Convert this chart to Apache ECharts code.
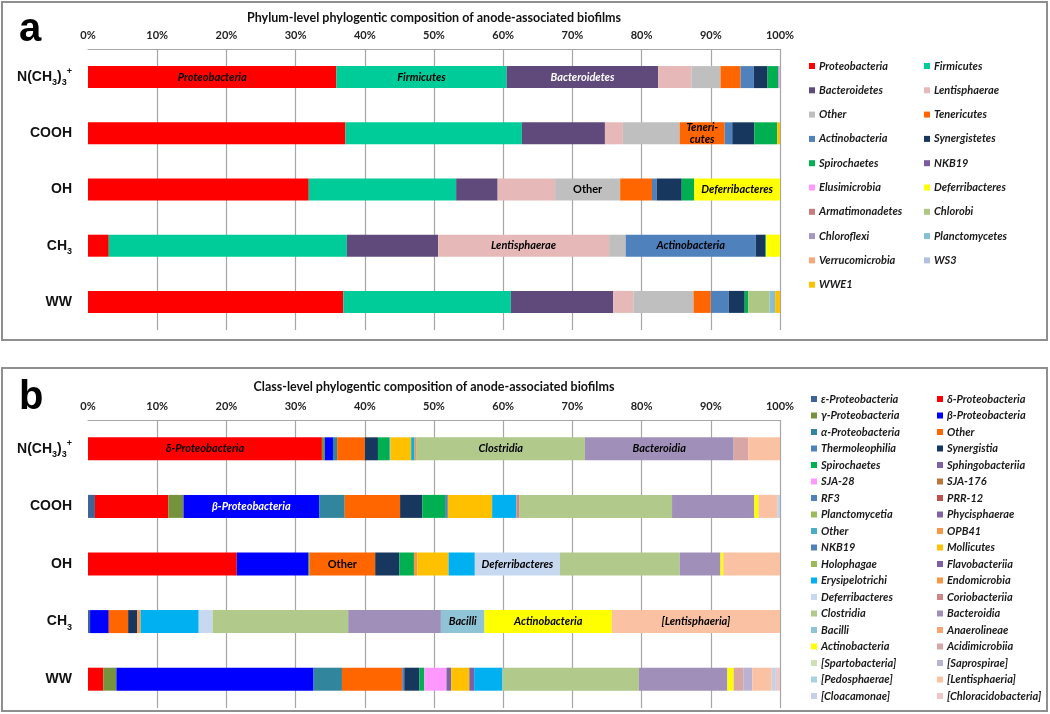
<!DOCTYPE html>
<html>
<head>
<meta charset="utf-8">
<script src="https://cdn.jsdelivr.net/npm/echarts@6/dist/echarts.min.js"></script>
<style>
html,body{margin:0;padding:0;background:#fff;}
#chart{width:1050px;height:714px;}
</style>
</head>
<body>
<div id="chart"></div>
<script>
// ---------- DATA ----------
const categories = ['N(CH3)3+', 'COOH', 'OH', 'CH3', 'WW'];
const pctTicks = [0, 10, 20, 30, 40, 50, 60, 70, 80, 90, 100];

const titleA = 'Phylum-level phylogentic composition of anode-associated biofilms';
const titleB = 'Class-level phylogentic composition of anode-associated biofilms';

const phylumNames = ['Proteobacteria', 'Firmicutes', 'Bacteroidetes', 'Lentisphaerae', 'Other', 'Tenericutes',
  'Actinobacteria', 'Synergistetes', 'Spirochaetes', 'NKB19', 'Elusimicrobia', 'Deferribacteres',
  'Armatimonadetes', 'Chlorobi', 'Chloroflexi', 'Planctomycetes', 'Verrucomicrobia', 'WS3', 'WWE1'];
const phylumColors = ['#FF0000', '#00CC99', '#604A7B', '#E6B9B8', '#BFBFBF', '#FF6600',
  '#4F81BD', '#17375E', '#00B050', '#7B5AA0', '#FF99FF', '#FFFF00',
  '#CB7B7B', '#AEC785', '#A697C6', '#86BFD5', '#F7A77A', '#B4C0E0', '#FFC000'];
//                 Prot  Firm  Bact  Lent  Oth  Tene Acti Syne Spir NKB Elus Defe Arma Chlb Chlf Plan Verr WS3 WWE1
const phylumN    = [35.9, 24.6, 21.9, 4.8, 4.2, 2.9, 1.9, 2.0, 1.6, 0, 0.2, 0, 0, 0, 0, 0, 0, 0, 0];
const phylumCOOH = [37.2, 25.5, 12.0, 2.6, 8.2, 6.5, 1.1, 3.2, 3.3, 0, 0, 0, 0, 0, 0, 0, 0, 0, 0.4];
const phylumOH   = [31.9, 21.3, 6.0, 8.3, 9.4, 4.6, 0.7, 3.6, 1.8, 0, 0, 12.4, 0, 0, 0, 0, 0, 0, 0];
const phylumCH3  = [3.0, 34.4, 13.2, 24.7, 2.4, 0, 18.8, 1.4, 0.1, 0, 0, 2.0, 0, 0, 0, 0, 0, 0, 0];
const phylumWW   = [36.9, 24.2, 14.8, 2.9, 8.7, 2.5, 2.6, 2.3, 0.5, 0, 0, 0, 0, 3.1, 0, 0.8, 0, 0, 0.7];

const classNames = ['ε-Proteobacteria', 'δ-Proteobacteria', 'γ-Proteobacteria', 'β-Proteobacteria',
  'α-Proteobacteria', 'Other', 'Thermoleophilia', 'Synergistia', 'Spirochaetes', 'Sphingobacteriia',
  'SJA-28', 'SJA-176', 'RF3', 'PRR-12', 'Planctomycetia', 'Phycisphaerae', 'Other', 'OPB41',
  'NKB19', 'Mollicutes', 'Holophagae', 'Flavobacteriia', 'Erysipelotrichi', 'Endomicrobia',
  'Deferribacteres', 'Coriobacteriia', 'Clostridia', 'Bacteroidia', 'Bacilli', 'Anaerolineae',
  'Actinobacteria', 'Acidimicrobiia', '[Spartobacteria]', '[Saprospirae]', '[Pedosphaerae]',
  '[Lentisphaeria]', '[Cloacamonae]', '[Chloracidobacteria]'];
const classColors = ['#3F6597', '#FF0000', '#76923C', '#0000FF',
  '#31859C', '#FF6600', '#4F81BD', '#17375E', '#00B050', '#7F62A3',
  '#FF99FF', '#B9773A', '#4F81BD', '#C0504D', '#9BBB59', '#8064A2', '#4BACC6', '#F79646',
  '#4F81BD', '#FFC000', '#9BBB59', '#7F5FA3', '#00B0F0', '#F79646',
  '#C6D9F1', '#D08686', '#B1C98B', '#A090B9', '#8EC4D6', '#F9A56F',
  '#FFFF00', '#D9A6A6', '#D0E0B6', '#B9B2D3', '#A8D2DF',
  '#FAC1A2', '#C7D1E5', '#EDC8C8'];
//               ε    δ     γ    β     α    Oth  Ther Syn  Spi  Sph SJ28 SJ176 RF3 PRR Plm Phy Oth2 OPB NKB Moll Hol Fla Ery Endo Def Cor Clos Bact Bac Ana Act Acid Spa Sap Ped Lent Cloa Chl
const classN    = [0, 33.8, 0.4, 1.2, 0.6, 4.0, 0, 1.9, 1.6, 0, 0, 0, 0, 0, 0, 0, 0.2, 0, 0, 3.0, 0, 0, 0.5, 0.3, 0, 0, 24.3, 21.5, 0, 0, 0, 2.1, 0, 0, 0, 4.6, 0, 0];
const classCOOH = [1.0, 10.6, 2.2, 19.6, 3.7, 8.0, 0, 3.2, 3.3, 0, 0, 0, 0, 0, 0, 0, 0, 0, 0.4, 6.4, 0, 0, 3.5, 0, 0, 0.4, 22.1, 11.9, 0, 0, 0.6, 0, 0, 0, 0, 2.7, 0.4, 0];
const classOH   = [0, 21.5, 0, 10.3, 0.2, 9.5, 0, 3.5, 2.1, 0, 0, 0, 0, 0, 0, 0, 0, 0.5, 0, 4.5, 0, 0, 3.8, 0, 12.3, 0, 17.3, 5.9, 0, 0, 0.4, 0, 0, 0, 0, 8.2, 0, 0];
const classCH3  = [0.3, 0, 0, 2.7, 0, 2.8, 0, 1.3, 0, 0, 0, 0, 0, 0, 0, 0, 0, 0.5, 0, 0, 0, 0, 8.4, 0, 2.0, 0, 19.6, 13.4, 6.3, 0, 18.4, 0, 0, 0, 0, 24.3, 0, 0];
const classWW   = [0, 2.2, 1.9, 28.5, 4.1, 8.7, 0.3, 2.2, 0.7, 0, 3.2, 0, 0, 0, 0, 0.7, 0, 0, 0, 2.6, 0, 0.7, 4.1, 0, 0, 0, 19.7, 12.8, 0, 0, 0.9, 1.4, 0, 1.3, 0, 2.8, 0.6, 0.6];

// Text written on bar segments: [category index, taxon index, text]
const segLabelsA = [[0, 0, 'Proteobacteria'], [0, 1, 'Firmicutes'], [0, 2, 'Bacteroidetes'],
  [1, 5, 'Teneri-\ncutes'], [2, 4, 'Other'], [2, 11, 'Deferribacteres'],
  [3, 3, 'Lentisphaerae'], [3, 6, 'Actinobacteria']];
const segLabelsB = [[0, 1, 'δ-Proteobacteria'], [0, 26, 'Clostridia'], [0, 27, 'Bacteroidia'],
  [1, 3, 'β-Proteobacteria'], [2, 5, 'Other'], [2, 24, 'Deferribacteres'],
  [3, 28, 'Bacilli'], [3, 30, 'Actinobacteria'], [3, 35, '[Lentisphaeria]']];

// ---------- BUILD ----------
const phylumRows = [phylumN, phylumCOOH, phylumOH, phylumCH3, phylumWW];
const classRows = [classN, classCOOH, classOH, classCH3, classWW];

const LFONT = 'Lato, "Open Sans", sans-serif';
const AFONT = '"Liberation Sans", Arial, sans-serif';

function uniqueNames(prefix, names) {
  const seen = {};
  return names.map(n => {
    let s = prefix + n;
    while (seen[s]) s += ' ';
    seen[s] = true;
    return s;
  });
}
const seriesNamesA = uniqueNames('a:', phylumNames);
const seriesNamesB = uniqueNames('b:', classNames);

function segLabel(list, cat, k) {
  const hit = list.find(l => l[0] === cat && l[1] === k);
  if (!hit) return null;
  const txt = hit[2];
  const white = (txt === 'Bacteroidetes' || txt === 'β-Proteobacteria');
  const plain = (txt === 'Other');
  return {
    show: true, position: 'inside', formatter: txt,
    color: white ? '#ffffff' : '#000000',
    fontFamily: LFONT, fontWeight: 'bold', fontStyle: plain ? 'normal' : 'italic',
    fontSize: 11, lineHeight: 12
  };
}

function buildSeries(names, colors, rows, labels, stack, axisIdx, barW) {
  return names.map((nm, k) => ({
    type: 'bar', name: nm, stack: stack,
    xAxisIndex: axisIdx, yAxisIndex: axisIdx,
    barWidth: barW,
    itemStyle: { color: colors[k] },
    emphasis: { disabled: true },
    data: rows.map((row, i) => {
      const lb = segLabel(labels, i, k);
      return lb ? { value: row[k], label: lb } : row[k];
    })
  }));
}

const series = [].concat(
  buildSeries(seriesNamesA, phylumColors, phylumRows, segLabelsA, 'a', 0, 22),
  buildSeries(seriesNamesB, classColors, classRows, segLabelsB, 'b', 1, 23)
);

function catFormatter(v) {
  if (v === 'N(CH3)3+') return '{m|N(CH}{s|3}{m|)}{s|3}{p|+}';
  if (v === 'CH3') return '{m|CH}{s|3}';
  return '{m|' + v + '}';
}
const catRich = {
  m: { fontFamily: AFONT, fontWeight: 'bold', fontSize: 14, color: '#111', lineHeight: 20 },
  s: { fontFamily: AFONT, fontWeight: 'bold', fontSize: 9, color: '#111', lineHeight: 11, verticalAlign: 'bottom' },
  p: { fontFamily: AFONT, fontWeight: 'bold', fontSize: 9, color: '#111', lineHeight: 11, verticalAlign: 'top' }
};

const gridColors = pctTicks.map((t, i) => i === 0 ? 'rgba(0,0,0,0)' : '#A6A6A6');

function xAxis(gi) {
  return {
    type: 'value', gridIndex: gi, position: 'top',
    min: pctTicks[0], max: pctTicks[pctTicks.length - 1], interval: pctTicks[1] - pctTicks[0],
    axisLine: { show: true, lineStyle: { color: '#A6A6A6', width: 1 } },
    axisTick: { show: false },
    axisLabel: { formatter: '{value}%', fontFamily: LFONT, fontWeight: 'bold', fontSize: 11, color: '#222', margin: 8 },
    splitLine: { show: true, lineStyle: { color: gridColors, width: 1.2 } }
  };
}
function yAxis(gi) {
  return {
    type: 'category', gridIndex: gi, data: categories, inverse: true,
    axisLine: { show: false }, axisTick: { show: false },
    axisLabel: { formatter: catFormatter, rich: catRich, margin: 16 }
  };
}

function legendCol(names, parity, left, top, gap) {
  return {
    data: names.filter((_, i) => i % 2 === parity),
    orient: 'vertical', left: left, top: top, itemGap: gap,
    icon: 'rect', itemWidth: 6, itemHeight: 6, padding: 0,
    selectedMode: false,
    formatter: n => n.slice(2),
    textStyle: { fontFamily: LFONT, fontWeight: 'bold', fontStyle: 'italic', fontSize: 11, color: '#1a1a1a', lineHeight: 14, padding: [0, 0, 0, -1] }
  };
}

const option = {
  animation: false,
  backgroundColor: '#ffffff',
  grid: [
    { left: 88, top: 49, width: 692, height: 281, containLabel: false },
    { left: 88, top: 420, width: 692, height: 288, containLabel: false }
  ],
  xAxis: [xAxis(0), xAxis(1)],
  yAxis: [yAxis(0), yAxis(1)],
  legend: [
    legendCol(seriesNamesA, 0, 809, 59, 10.3),
    legendCol(seriesNamesA, 1, 924, 59, 10.3),
    legendCol(seriesNamesB, 0, 811, 392, 2.5),
    legendCol(seriesNamesB, 1, 937, 392, 2.5)
  ],
  graphic: [
    { type: 'rect', shape: { x: 2, y: 2, width: 1045, height: 338 }, style: { fill: 'none', stroke: '#8F8F8F', lineWidth: 2 }, z: -1 },
    { type: 'rect', shape: { x: 2, y: 368, width: 1045, height: 343 }, style: { fill: 'none', stroke: '#8F8F8F', lineWidth: 2 }, z: -1 },
    { type: 'text', x: 19, y: 10, style: { text: 'a', font: 'bold 40px ' + AFONT, fill: '#000' } },
    { type: 'text', x: 19, y: 378, style: { text: 'b', font: 'bold 40px ' + AFONT, fill: '#000' } },
    { type: 'text', x: 434, y: 11, style: { text: titleA, font: 'bold 12.5px ' + LFONT, fill: '#111', align: 'center' } },
    { type: 'text', x: 434, y: 380, style: { text: titleB, font: 'bold 12.5px ' + LFONT, fill: '#111', align: 'center' } }
  ],
  series: series
};

const chart = echarts.init(document.getElementById('chart'), null, { renderer: 'canvas' });
chart.setOption(option);
</script>
</body>
</html>
